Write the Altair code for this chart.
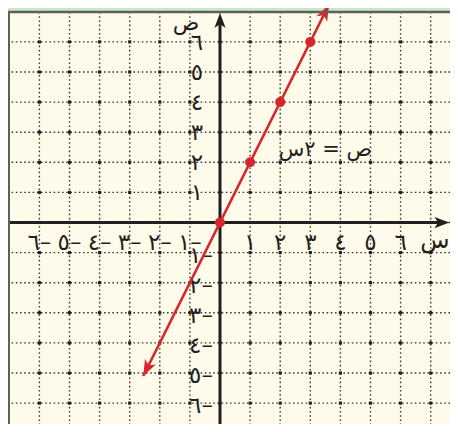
import altair as alt
import pandas as pd

# ---- data -------------------------------------------------------------
grid_x = [-6, -5, -4, -3, -2, -1, 0, 1, 2, 3, 4, 5, 6, 7]
grid_y = [-6, -5, -4, -3, -2, -1, 0, 1, 2, 3, 4, 5, 6]
tick_vals = [1, 2, 3, 4, 5, 6]
pos_labels = ["١", "٢", "٣", "٤", "٥", "٦"]
neg_labels = ["١–", "٢–", "٣–", "٤–", "٥–", "٦–"]
line_x = [-2.55, 3.62]        # ends of the drawn line  ص = ٢س
line_y = [-5.10, 7.24]
pts_x = [0, 1, 2, 3]
pts_y = [0, 2, 4, 6]
eq_text = "ص = ٢س"
eq_x, eq_y = 3.5, 2.41
x_name, y_name = "س", "ص"
x_name_pos = (7.14, 0)
y_name_pos = (0, 6.62)
x_arrow_tip = 7.62
y_arrow_tip = 6.96

# ---- styling ----------------------------------------------------------
RED = "#d7262d"
INK = "#231f20"
GRID = "#3a3a3a"
FONT = "DejaVu Sans"
ARROW = "M0,0 L-2,-0.75 L-1.5,0 L-2,0.75 Z"

X_DOM = [-7.043, 7.641]
Y_DOM = [-6.694, 6.993]
xs = alt.Scale(domain=X_DOM, nice=False, zero=False)
ys = alt.Scale(domain=Y_DOM, nice=False, zero=False)


def X(f="x"):
    return alt.X(f"{f}:Q", scale=xs, axis=None)


def Y(f="y"):
    return alt.Y(f"{f}:Q", scale=ys, axis=None)


gx = pd.DataFrame({"x": grid_x})
gy = pd.DataFrame({"y": grid_y})
inter = pd.DataFrame([(a, b) for a in grid_x for b in grid_y], columns=["x", "y"])

vgrid = alt.Chart(gx).mark_rule(color=GRID, strokeWidth=1.4, strokeDash=[1.6, 2.6]).encode(x=X())
hgrid = alt.Chart(gy).mark_rule(color=GRID, strokeWidth=1.4, strokeDash=[1.6, 2.6]).encode(y=Y())
dots = alt.Chart(inter).mark_square(color="#222", size=10, opacity=1).encode(x=X(), y=Y())

xaxis = alt.Chart(pd.DataFrame({"y": [0], "x": [X_DOM[0]], "x2": [x_arrow_tip - 0.3]})).mark_rule(
    color=INK, strokeWidth=3).encode(x=X(), x2="x2", y=Y())
yaxis = alt.Chart(pd.DataFrame({"x": [0], "y": [Y_DOM[0]], "y2": [y_arrow_tip - 0.3]})).mark_rule(
    color=INK, strokeWidth=3).encode(x=X(), y=Y(), y2="y2")

xarrow = alt.Chart(pd.DataFrame({"x": [x_arrow_tip], "y": [0]})).mark_point(
    shape=ARROW, filled=True, color=INK, size=225, angle=0, opacity=1, strokeWidth=0
).encode(x=X(), y=Y())
yarrow = alt.Chart(pd.DataFrame({"x": [0], "y": [y_arrow_tip]})).mark_point(
    shape=ARROW, filled=True, color=INK, size=225, angle=270, opacity=1, strokeWidth=0
).encode(x=X(), y=Y())

ldf = pd.DataFrame({"x": line_x, "y": line_y})
redline = alt.Chart(ldf).mark_line(color=RED, strokeWidth=2.6, clip=False).encode(x=X(), y=Y())
arrow_top = alt.Chart(pd.DataFrame({"x": [line_x[1]], "y": [line_y[1]]})).mark_point(
    shape=ARROW, filled=True, color=RED, size=256, angle=296.57, opacity=1, strokeWidth=0
).encode(x=X(), y=Y())
arrow_bot = alt.Chart(pd.DataFrame({"x": [line_x[0]], "y": [line_y[0]]})).mark_point(
    shape=ARROW, filled=True, color=RED, size=256, angle=116.57, opacity=1, strokeWidth=0
).encode(x=X(), y=Y())
points = alt.Chart(pd.DataFrame({"x": pts_x, "y": pts_y})).mark_circle(
    color=RED, size=100, opacity=1).encode(x=X(), y=Y())

xl = pd.DataFrame({"x": tick_vals + [-v for v in tick_vals], "y": 0,
                   "t": pos_labels + neg_labels})
yl_pos = pd.DataFrame({"x": 0, "y": tick_vals, "t": pos_labels})
yl_neg = pd.DataFrame({"x": 0, "y": [-v for v in tick_vals], "t": neg_labels})

txt = dict(font=FONT, fontSize=23, color=INK, baseline="middle", align="center")
xlabels = alt.Chart(xl).mark_text(dy=20, **txt).encode(x=X(), y=Y(), text="t:N")
ylabels_p = alt.Chart(yl_pos).mark_text(dx=-23, dy=1, **txt).encode(x=X(), y=Y(), text="t:N")
ylabels_n = alt.Chart(yl_neg).mark_text(dx=-19, dy=3, **txt).encode(x=X(), y=Y(), text="t:N")

xname = alt.Chart(pd.DataFrame({"x": [x_name_pos[0]], "y": [x_name_pos[1]], "t": [x_name]})).mark_text(
    dy=18, font=FONT, fontSize=24, color=INK, baseline="middle", align="center").encode(
    x=X(), y=Y(), text="t:N")
yname = alt.Chart(pd.DataFrame({"x": [y_name_pos[0]], "y": [y_name_pos[1]], "t": [y_name]})).mark_text(
    dx=-34, font=FONT, fontSize=22, color=INK, baseline="middle", align="center").encode(
    x=X(), y=Y(), text="t:N")
eq = alt.Chart(pd.DataFrame({"x": [eq_x], "y": [eq_y], "t": [eq_text]})).mark_text(
    font=FONT, fontSize=21, color=INK, baseline="middle", align="center").encode(
    x=X(), y=Y(), text="t:N")

border_top = alt.Chart(pd.DataFrame({"y": [Y_DOM[1]]})).mark_rule(
    color="#56645a", strokeWidth=2.5).encode(y=Y())
border_left = alt.Chart(pd.DataFrame({"x": [X_DOM[0]]})).mark_rule(
    color="#56645a", strokeWidth=4).encode(x=X())

chart = alt.layer(
    vgrid, hgrid, dots, xaxis, yaxis, xarrow, yarrow,
    xlabels, ylabels_p, ylabels_n, xname, yname, eq,
    redline, arrow_top, arrow_bot, points,
    border_top, border_left,
).properties(
    width=442, height=412,
    background="#cfe5cb",
    padding={"left": 0, "top": 4, "right": 0, "bottom": 0},
    autosize=alt.AutoSizeParams(type="none"),
).configure_view(stroke=None, fill="#fffbea")

chart.save("out.html", embed_options={"renderer": "svg", "actions": False})
